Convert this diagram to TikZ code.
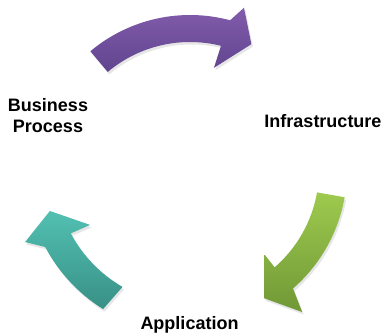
\documentclass[tikz,border=0pt]{standalone}
\usepackage{fontspec}
\setmainfont{Liberation Sans}
\usetikzlibrary{shadows}

\definecolor{purpletop}{RGB}{130,92,172}
\definecolor{purplebot}{RGB}{96,68,142}
\definecolor{greentop}{RGB}{158,202,78}
\definecolor{greenbot}{RGB}{112,152,54}
\definecolor{tealtop}{RGB}{82,192,178}
\definecolor{tealbot}{RGB}{56,144,134}

\begin{document}
\begin{tikzpicture}[x=1pt,y=1pt,
  cyclearrow/.style={drop shadow={shadow xshift=1.5pt,shadow yshift=-2.5pt,opacity=0.2}},
  steplabel/.style={inner sep=0pt,font=\fontsize{18}{21}\selectfont\bfseries,align=center,anchor=base}]
\useasboundingbox (0,0) rectangle (384,333);

\begin{scope}[shift={(190,163)}]
%Shape: Arc Arrow [purple, top]
\path [cyclearrow,top color=purpletop,bottom color=purplebot]
  (130:155) arc[start angle=130,end angle=75,radius=155] -- (71.6:171) -- (64:140)
  -- (76.8:105) -- (76:128) arc[start angle=76,end angle=130,radius=128] -- cycle ;
%Shape: Arc Arrow [green, right]
\path [cyclearrow,top color=greentop,bottom color=greenbot]
  (-10:157) arc[start angle=-10,end angle=-49,radius=157] -- (-51.7:181) -- (-60:148)
  -- (-48.6:113) -- (-49:129) arc[start angle=-49,end angle=-10,radius=129] -- cycle ;
%Shape: Arc Arrow [teal, left]
\path [cyclearrow,top color=tealtop,bottom color=tealbot]
  (238:164) arc[start angle=238,end angle=208,radius=164] -- (203.6:180) -- (196.3:146)
  -- (208.8:114) -- (208:135) arc[start angle=208,end angle=240,radius=135] -- cycle ;
\end{scope}

% Text Node
\node [steplabel] (business) at (48,200.7) {Business\\Process};
% Text Node
\node [steplabel] (infra) at (323,205) {Infrastructure};
% Text Node
\node [steplabel] (app) at (189.5,3.7) {Application};

\end{tikzpicture}
\end{document}
